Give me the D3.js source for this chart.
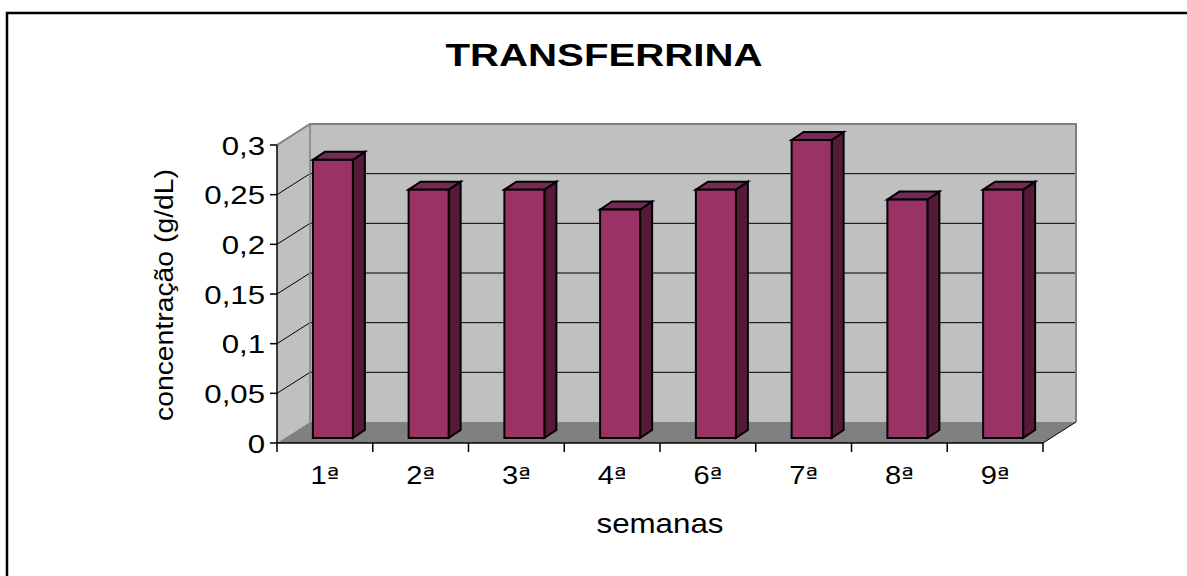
<!DOCTYPE html>
<html>
<head>
<meta charset="utf-8">
<script src="https://cdnjs.cloudflare.com/ajax/libs/d3/7.8.5/d3.min.js"></script>
<style>
  html, body { margin: 0; padding: 0; background: #fff; }
  svg { display: block; }
  text { font-family: "Liberation Sans", Arial, sans-serif; fill: #000; }
</style>
</head>
<body>
<svg id="chart" width="1187" height="576"></svg>
<script>
// Weekly transferrin concentration
const categories = ["1ª", "2ª", "3ª", "4ª", "6ª", "7ª", "8ª", "9ª"];
const values = [0.28, 0.25, 0.25, 0.23, 0.25, 0.30, 0.24, 0.25];
const yTicks = [0, 0.05, 0.1, 0.15, 0.2, 0.25, 0.3];
const yTickLabels = ["0", "0,05", "0,1", "0,15", "0,2", "0,25", "0,3"];
const titleText = "TRANSFERRINA";
const yAxisTitle = "concentração (g/dL)";
const xAxisTitle = "semanas";

(function draw() {
  const svg = d3.select("#chart");

  // Front plane of the 3D box and its depth offset
  const pLeft = 277, pRight = 1043, pBottom = 443, pTop = 145;
  const depth = { dx: 33, dy: -21 };
  const barInset = { dx: 8, dy: -5 };   // bar front face sits slightly back
  const barDepth = { dx: 12, dy: -8 };
  const barWidth = 40;

  const x = d3.scaleBand().domain(categories).range([pLeft, pRight]);
  const y = d3.scaleLinear().domain([0, 0.3]).range([pBottom, pTop]);

  const wallFill = "#c0c0c0", floorFill = "#808080", wallEdge = "#808080";

  // Outer chart border (continues past the right and bottom edges)
  svg.append("rect")
    .attr("x", 7).attr("y", 13).attr("width", 1400).attr("height", 800)
    .attr("fill", "none").attr("stroke", "#000").attr("stroke-width", 2.5);

  const poly = pts => pts.map(p => p.join(",")).join(" ");
  const yMax = y.domain()[1];

  // Back wall
  svg.append("polygon")
    .attr("points", poly([
      [pLeft + depth.dx, y(yMax) + depth.dy], [pRight + depth.dx, y(yMax) + depth.dy],
      [pRight + depth.dx, y(0) + depth.dy], [pLeft + depth.dx, y(0) + depth.dy]]))
    .attr("fill", wallFill);

  // Side wall
  svg.append("polygon")
    .attr("points", poly([
      [pLeft, y(yMax)], [pLeft + depth.dx, y(yMax) + depth.dy],
      [pLeft + depth.dx, y(0) + depth.dy], [pLeft, y(0)]]))
    .attr("fill", wallFill);

  // Floor
  svg.append("polygon")
    .attr("points", poly([
      [pLeft, y(0)], [pRight, y(0)],
      [pRight + depth.dx, y(0) + depth.dy], [pLeft + depth.dx, y(0) + depth.dy]]))
    .attr("fill", floorFill);

  // Gridlines: across the back wall and diagonally over the side wall
  const grid = svg.append("g");
  yTicks.filter(t => t > 0 && t < yMax).forEach(t => {
    grid.append("line")
      .attr("x1", pLeft + depth.dx).attr("x2", pRight + depth.dx)
      .attr("y1", y(t) + depth.dy).attr("y2", y(t) + depth.dy)
      .attr("stroke", "#000").attr("stroke-width", 1);
    grid.append("line")
      .attr("x1", pLeft).attr("x2", pLeft + depth.dx)
      .attr("y1", y(t)).attr("y2", y(t) + depth.dy)
      .attr("stroke", "#000").attr("stroke-width", 1);
  });

  // Wall edges
  svg.append("polyline")
    .attr("points", poly([
      [pLeft, y(yMax)], [pLeft + depth.dx, y(yMax) + depth.dy],
      [pRight + depth.dx, y(yMax) + depth.dy], [pRight + depth.dx, y(0) + depth.dy]]))
    .attr("fill", "none").attr("stroke", wallEdge).attr("stroke-width", 2);
  svg.append("line")
    .attr("x1", pLeft + depth.dx).attr("x2", pLeft + depth.dx)
    .attr("y1", y(yMax) + depth.dy).attr("y2", y(0) + depth.dy)
    .attr("stroke", wallEdge).attr("stroke-width", 1.5);
  svg.append("line")
    .attr("x1", pRight).attr("x2", pRight + depth.dx)
    .attr("y1", y(0)).attr("y2", y(0) + depth.dy)
    .attr("stroke", "#000").attr("stroke-width", 1);

  // Bars
  const stroke = { stroke: "#000", "stroke-width": 2, "stroke-linejoin": "miter" };
  const apply = (sel, o) => { Object.entries(o).forEach(([k, val]) => sel.attr(k, val)); return sel; };
  svg.append("g").selectAll("g").data(categories).join("g").each(function (c, i) {
    const g = d3.select(this);
    const v = values[i];
    const x0 = x(c) + x.bandwidth() / 2 + barInset.dx - barWidth / 2;
    const x1 = x0 + barWidth;
    const yt = y(v) + barInset.dy;
    const yb = y(0) + barInset.dy;
    // side face
    apply(g.append("polygon").attr("points", poly([
      [x1, yt], [x1 + barDepth.dx, yt + barDepth.dy],
      [x1 + barDepth.dx, yb + barDepth.dy], [x1, yb]])).attr("fill", "#551a38"), stroke);
    // top face
    apply(g.append("polygon").attr("points", poly([
      [x0, yt], [x0 + barDepth.dx, yt + barDepth.dy],
      [x1 + barDepth.dx, yt + barDepth.dy], [x1, yt]])).attr("fill", "#762a55"), stroke);
    // front face
    apply(g.append("rect").attr("x", x0).attr("y", yt)
      .attr("width", barWidth).attr("height", yb - yt).attr("fill", "#993366"), stroke);
  });

  // Y axis
  svg.append("line")
    .attr("x1", pLeft).attr("x2", pLeft).attr("y1", y(0)).attr("y2", y(yMax))
    .attr("stroke", "#000").attr("stroke-width", 1.5);
  const yAx = svg.append("g");
  yTicks.forEach((t, i) => {
    yAx.append("line").attr("x1", pLeft - 7).attr("x2", pLeft)
      .attr("y1", y(t)).attr("y2", y(t)).attr("stroke", "#000").attr("stroke-width", 1.5);
    yAx.append("text")
      .attr("transform", `translate(${pLeft - 12},${y(t) + 9.5}) scale(1.2,1)`)
      .attr("text-anchor", "end").attr("font-size", 26)
      .text(yTickLabels[i]);
  });

  // X axis
  svg.append("line")
    .attr("x1", pLeft).attr("x2", pRight).attr("y1", y(0)).attr("y2", y(0))
    .attr("stroke", "#000").attr("stroke-width", 1.5);
  const xAx = svg.append("g");
  categories.forEach(c => {
    xAx.append("line").attr("x1", x(c)).attr("x2", x(c))
      .attr("y1", y(0)).attr("y2", y(0) + 9).attr("stroke", "#000").attr("stroke-width", 1.5);
    // numeral followed by an underlined ordinal indicator
    const t = xAx.append("text")
      .attr("transform", `translate(${x(c) + x.bandwidth() / 2},${y(0) + 41}) scale(1.12,1)`)
      .attr("text-anchor", "middle").attr("font-size", 26);
    t.append("tspan").text(c.slice(0, -1));
    t.append("tspan").attr("font-family", "'DejaVu Sans'").attr("font-size", 24)
      .text(c.slice(-1));
  });
  xAx.append("line").attr("x1", pRight).attr("x2", pRight)
    .attr("y1", y(0)).attr("y2", y(0) + 9).attr("stroke", "#000").attr("stroke-width", 1.5);

  // Titles
  svg.append("text")
    .attr("x", 604).attr("y", 66).attr("text-anchor", "middle")
    .attr("font-size", 32).attr("font-weight", "bold")
    .attr("textLength", 317).attr("lengthAdjust", "spacingAndGlyphs")
    .text(titleText);

  svg.append("text")
    .attr("x", 660).attr("y", 533).attr("text-anchor", "middle")
    .attr("font-size", 28)
    .attr("textLength", 127).attr("lengthAdjust", "spacingAndGlyphs")
    .text(xAxisTitle);

  svg.append("text")
    .attr("transform", "translate(173,295) rotate(-90)")
    .attr("text-anchor", "middle").attr("font-size", 26)
    .attr("textLength", 252).attr("lengthAdjust", "spacingAndGlyphs")
    .text(yAxisTitle);
})();
</script>
</body>
</html>
